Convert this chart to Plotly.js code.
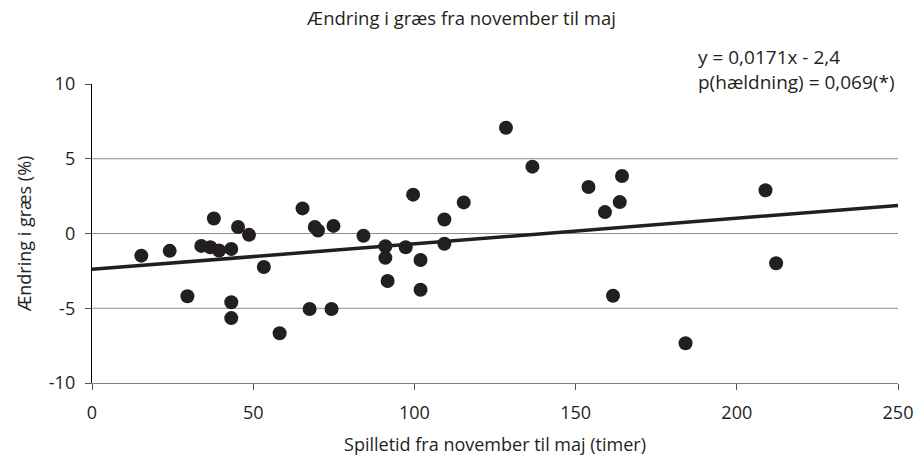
<!DOCTYPE html>
<html>
<head>
<meta charset="utf-8">
<script src="https://cdn.plot.ly/plotly-3.0.1.min.js"></script>
<style>html,body{margin:0;padding:0;background:#fff}#chart{width:923px;height:463px}</style>
</head>
<body>
<div id="chart"></div>
<script>
// Spilletid fra november til maj (timer)
const spilletid = [15.3, 24.1, 29.6, 33.9, 36.7, 37.8, 39.4, 43.2, 43.2, 43.2,
  45.3, 48.7, 53.3, 58.2, 65.3, 67.5, 69.1, 70.1, 74.3, 74.9,
  84.2, 91.0, 91.0, 91.7, 97.3, 99.6, 101.9, 101.9, 109.3, 109.3,
  115.3, 128.4, 136.6, 154.0, 159.1, 161.6, 163.7, 164.4, 184.1, 208.9, 212.2];
// Ændring i græs (%)
const aendring = [-1.48, -1.16, -4.2, -0.83, -0.92, 1.0, -1.14, -1.03, -4.6, -5.66,
  0.43, -0.09, -2.24, -6.67, 1.68, -5.05, 0.43, 0.2, -5.05, 0.51,
  -0.15, -0.85, -1.63, -3.18, -0.92, 2.6, -1.77, -3.76, 0.94, -0.69,
  2.08, 7.07, 4.47, 3.11, 1.43, -4.16, 2.1, 3.85, -7.34, 2.89, -1.99];
// Regression
const slope = 0.0171;
const intercept = -2.4;
const xRange = [0, 250];
const yRange = [-10, 10];
const xTicks = [0, 50, 100, 150, 200, 250];
const yTicks = [-10, -5, 0, 5, 10];
const gridLevels = [-5, 0, 5];

const ink = '#231f20';
const font = 'Open Sans, Noto Sans, sans-serif';

const traces = [
  {
    x: spilletid, y: aendring, type: 'scatter', mode: 'markers',
    marker: {size: 14, color: ink, line: {width: 0}},
    hoverinfo: 'x+y', showlegend: false
  },
  {
    x: xRange, y: xRange.map(v => slope * v + intercept),
    type: 'scatter', mode: 'lines',
    line: {color: ink, width: 3.5}, showlegend: false, hoverinfo: 'skip'
  }
];

const shapes = gridLevels.map(g => ({
  type: 'line', xref: 'paper', x0: 0, x1: 1, yref: 'y', y0: g, y1: g,
  line: {color: '#8c8c8c', width: 1}, layer: 'below'
}));

const layout = {
  width: 923, height: 463,
  margin: {l: 92, r: 25, t: 84, b: 80},
  paper_bgcolor: '#fff', plot_bgcolor: '#fff',
  font: {family: font, color: ink, size: 18},
  title: {text: 'Ændring i græs fra november til maj', font: {size: 18.5, color: ink},
    x: 0.5, xref: 'container', xanchor: 'center', y: 0.961, yanchor: 'middle'},
  xaxis: {
    range: xRange, tickvals: xTicks, ticktext: xTicks.map(String),
    showgrid: false, zeroline: false,
    showline: true, linecolor: '#808080', linewidth: 1.2,
    ticks: 'outside', ticklen: 6, tickcolor: '#555', tickwidth: 1,
    tickfont: {size: 18, color: ink}, ticklabelstandoff: 7,
    title: {text: 'Spilletid fra november til maj (timer)', font: {size: 18, color: ink}, standoff: 15}
  },
  yaxis: {
    range: yRange, tickvals: yTicks, ticktext: yTicks.map(String),
    showgrid: false, zeroline: false,
    showline: true, linecolor: '#000', linewidth: 1.2,
    ticks: 'outside', ticklen: 6, tickcolor: '#555', tickwidth: 1,
    tickfont: {size: 18, color: ink}, ticklabelstandoff: 6,
    title: {text: 'Ændring i græs (%)', font: {size: 18, color: ink}, standoff: 12}
  },
  shapes: shapes,
  annotations: [
    {text: 'y = 0,0171x - 2,4<br>p(hældning) = 0,069(*)', xref: 'paper', yref: 'paper',
      x: 0.749, y: 1.0485, align: 'left',
      xanchor: 'left', yanchor: 'middle', showarrow: false, font: {size: 19, color: ink}}
  ]
};

Plotly.newPlot('chart', traces, layout, {displayModeBar: false, staticPlot: true});
</script>
</body>
</html>
